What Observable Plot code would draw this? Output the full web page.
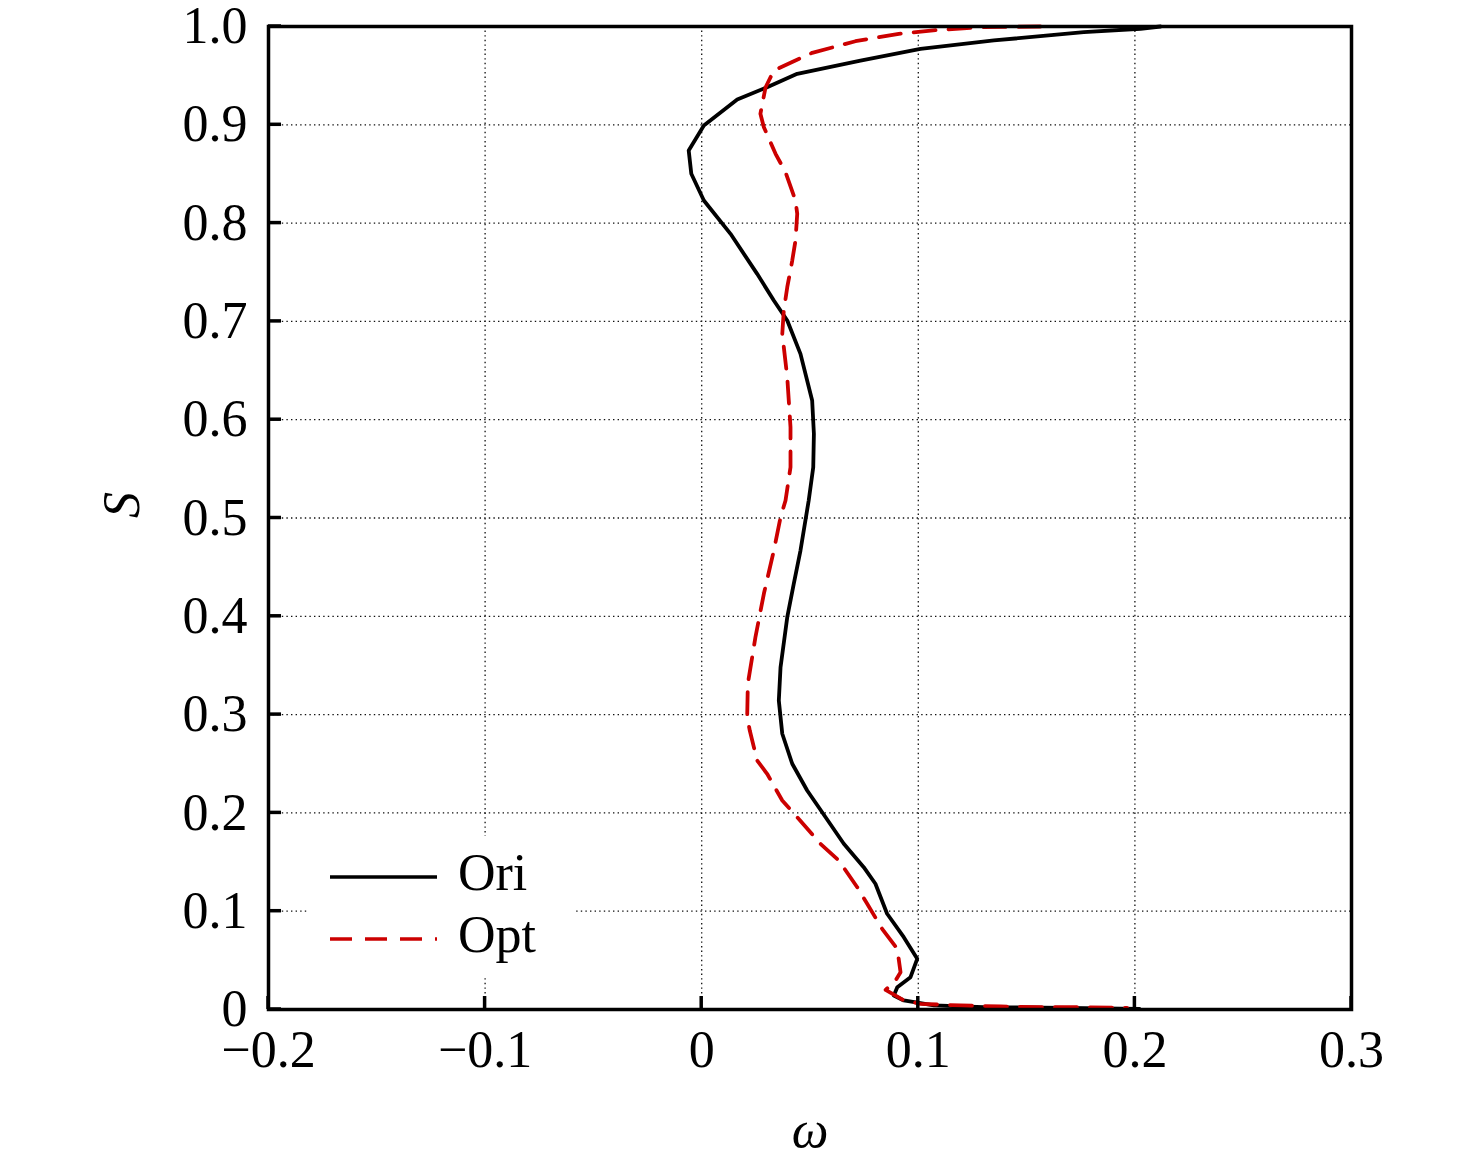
<!DOCTYPE html>
<html>
<head>
<meta charset="utf-8">
<script src="https://cdn.jsdelivr.net/npm/d3@7"></script>
<script src="https://cdn.jsdelivr.net/npm/@observablehq/plot@0.6"></script>
<style>
  html, body { margin: 0; padding: 0; background: #fff; }
</style>
</head>
<body>
<div id="chart"></div>
<script>
// Tick values
const xTicks = [-0.2, -0.1, 0, 0.1, 0.2, 0.3];
const yTicks = [0, 0.1, 0.2, 0.3, 0.4, 0.5, 0.6, 0.7, 0.8, 0.9, 1.0];

// Series names
const seriesNames = ["Ori", "Opt"];

// Ori (solid black): omega values and S values
const oriW = [0.2118, 0.2026, 0.1764, 0.1349, 0.1010, 0.0733, 0.0441, 0.0302, 0.0164, 0.0010,
  -0.0060, -0.0048, 0.0010, 0.0133, 0.0256, 0.0333, 0.0395, 0.0456, 0.0510, 0.0518,
  0.0515, 0.0494, 0.0456, 0.0425, 0.0395, 0.0364, 0.0356, 0.0372, 0.0418, 0.0487,
  0.0572, 0.0656, 0.0748, 0.0802, 0.0856, 0.0933, 0.0995, 0.0964, 0.0903, 0.0887,
  0.0933, 0.1072, 0.1302, 0.1687, 0.2021];
const oriS = [1.0000, 0.9977, 0.9942, 0.9858, 0.9773, 0.9654, 0.9519, 0.9382, 0.9257, 0.8993,
  0.8739, 0.8502, 0.8230, 0.7891, 0.7484, 0.7213, 0.7009, 0.6670, 0.6195, 0.5857,
  0.5517, 0.5178, 0.4669, 0.4331, 0.3991, 0.3482, 0.3143, 0.2805, 0.2500, 0.2228,
  0.1956, 0.1686, 0.1448, 0.1279, 0.0974, 0.0736, 0.0516, 0.0329, 0.0227, 0.0142,
  0.0092, 0.0041, 0.0023, 0.0017, 0.0007];

// Opt (dashed red): omega values and S values
const optW = [0.1564, 0.1302, 0.1103, 0.0910, 0.0710, 0.0510, 0.0333, 0.0295, 0.0271, 0.0287,
  0.0341, 0.0387, 0.0433, 0.0441, 0.0433, 0.0418, 0.0395, 0.0379, 0.0372, 0.0395,
  0.0410, 0.0410, 0.0387, 0.0364, 0.0333, 0.0287, 0.0248, 0.0213, 0.0210, 0.0222,
  0.0256, 0.0302, 0.0372, 0.0441, 0.0548, 0.0633, 0.0718, 0.0764, 0.0833, 0.0903,
  0.0918, 0.0895, 0.0849, 0.0933, 0.1010, 0.1195, 0.1380, 0.1579, 0.1764, 0.1964];
const optS = [1.0000, 0.9993, 0.9967, 0.9926, 0.9850, 0.9732, 0.9552, 0.9382, 0.9112, 0.8976,
  0.8705, 0.8518, 0.8230, 0.8095, 0.7823, 0.7619, 0.7348, 0.7111, 0.6874, 0.6432,
  0.5924, 0.5517, 0.5178, 0.5008, 0.4669, 0.4229, 0.3787, 0.3313, 0.2974, 0.2838,
  0.2533, 0.2398, 0.2126, 0.1956, 0.1686, 0.1516, 0.1244, 0.1075, 0.0821, 0.0617,
  0.0379, 0.0295, 0.0200, 0.0092, 0.0058, 0.0041, 0.0031, 0.0023, 0.0023, 0.0017];

const ori = oriW.map((w, i) => ({w, s: oriS[i]}));
const opt = optW.map((w, i) => ({w, s: optS[i]}));

const FONT = "'Liberation Serif', 'Times New Roman', serif";
const RED = "#cc0000";
const LW = 3.8;
const fmtX = d => d === 0 ? "0" : d3.format(".1f")(d);
const fmtY = d => d === 0 ? "0" : d3.format(".1f")(d);
const gridStyle = {stroke: "#111", strokeOpacity: 1, strokeWidth: 1.3, strokeDasharray: "1.4,3.2"};

const chart = Plot.plot({
  width: 1476,
  height: 1162,
  marginLeft: 268,
  marginRight: 125,
  marginTop: 26,
  marginBottom: 153,
  style: {fontFamily: FONT, fontSize: "52px", background: "#fff", color: "#000", overflow: "visible"},
  x: {domain: [-0.2, 0.3]},
  y: {domain: [0, 1]},
  marks: [
    Plot.gridX(xTicks, gridStyle),
    Plot.gridY(yTicks, gridStyle),
    Plot.line(ori, {x: "w", y: "s", stroke: "#000", strokeWidth: LW}),
    Plot.line(opt, {x: "w", y: "s", stroke: RED, strokeWidth: LW, strokeDasharray: "22,13"}),
    Plot.frame({stroke: "#000", strokeWidth: 3.5}),
    Plot.axisX(xTicks, {tickSize: 0, tickPadding: 21, tickFormat: fmtX, label: null, fontSize: 52}),
    Plot.axisY(yTicks, {tickSize: 0, tickPadding: 21, tickFormat: fmtY, label: null, fontSize: 52}),
    Plot.text(["ω"], {frameAnchor: "bottom", dy: 121, fontStyle: "italic", fontSize: 52, lineAnchor: "middle"}),
    Plot.text(["S"], {frameAnchor: "left", dx: -146, rotate: -90, fontStyle: "italic", fontSize: 52, lineAnchor: "middle"})
  ]
});

document.getElementById("chart").appendChild(chart);

const svg = d3.select(chart);
const sx = chart.scale("x");
const sy = chart.scale("y");
const [x0] = sx.range;
const [y0] = sy.range;

// Inward tick marks on bottom and left axes, positioned with Plot's scales
const tg = svg.append("g").attr("stroke", "#000").attr("stroke-width", 3.5);
xTicks.forEach(v => {
  const px = sx.apply(v);
  tg.append("line").attr("x1", px).attr("x2", px).attr("y1", y0).attr("y2", y0 - 13);
});
yTicks.forEach(v => {
  const py = sy.apply(v);
  tg.append("line").attr("x1", x0).attr("x2", x0 + 13).attr("y1", py).attr("y2", py);
});

// Legend inside the plot area
const lg = svg.append("g").attr("font-family", FONT).attr("font-size", 52).attr("text-anchor", "start");
lg.append("rect").attr("x", 308).attr("y", 836).attr("width", 268).attr("height", 140).attr("fill", "#fff");
const items = [
  {name: seriesNames[0], color: "#000", dash: null, y: 877},
  {name: seriesNames[1], color: RED, dash: "22,13", y: 939}
];
items.forEach(it => {
  lg.append("line").attr("x1", 330).attr("x2", 437).attr("y1", it.y).attr("y2", it.y)
    .attr("stroke", it.color).attr("stroke-width", 3.5)
    .attr("stroke-dasharray", it.dash);
  lg.append("text").attr("x", 458).attr("y", it.y + 13).attr("text-anchor", "start")
    .attr("fill", "#000").text(it.name);
});
</script>
</body>
</html>
